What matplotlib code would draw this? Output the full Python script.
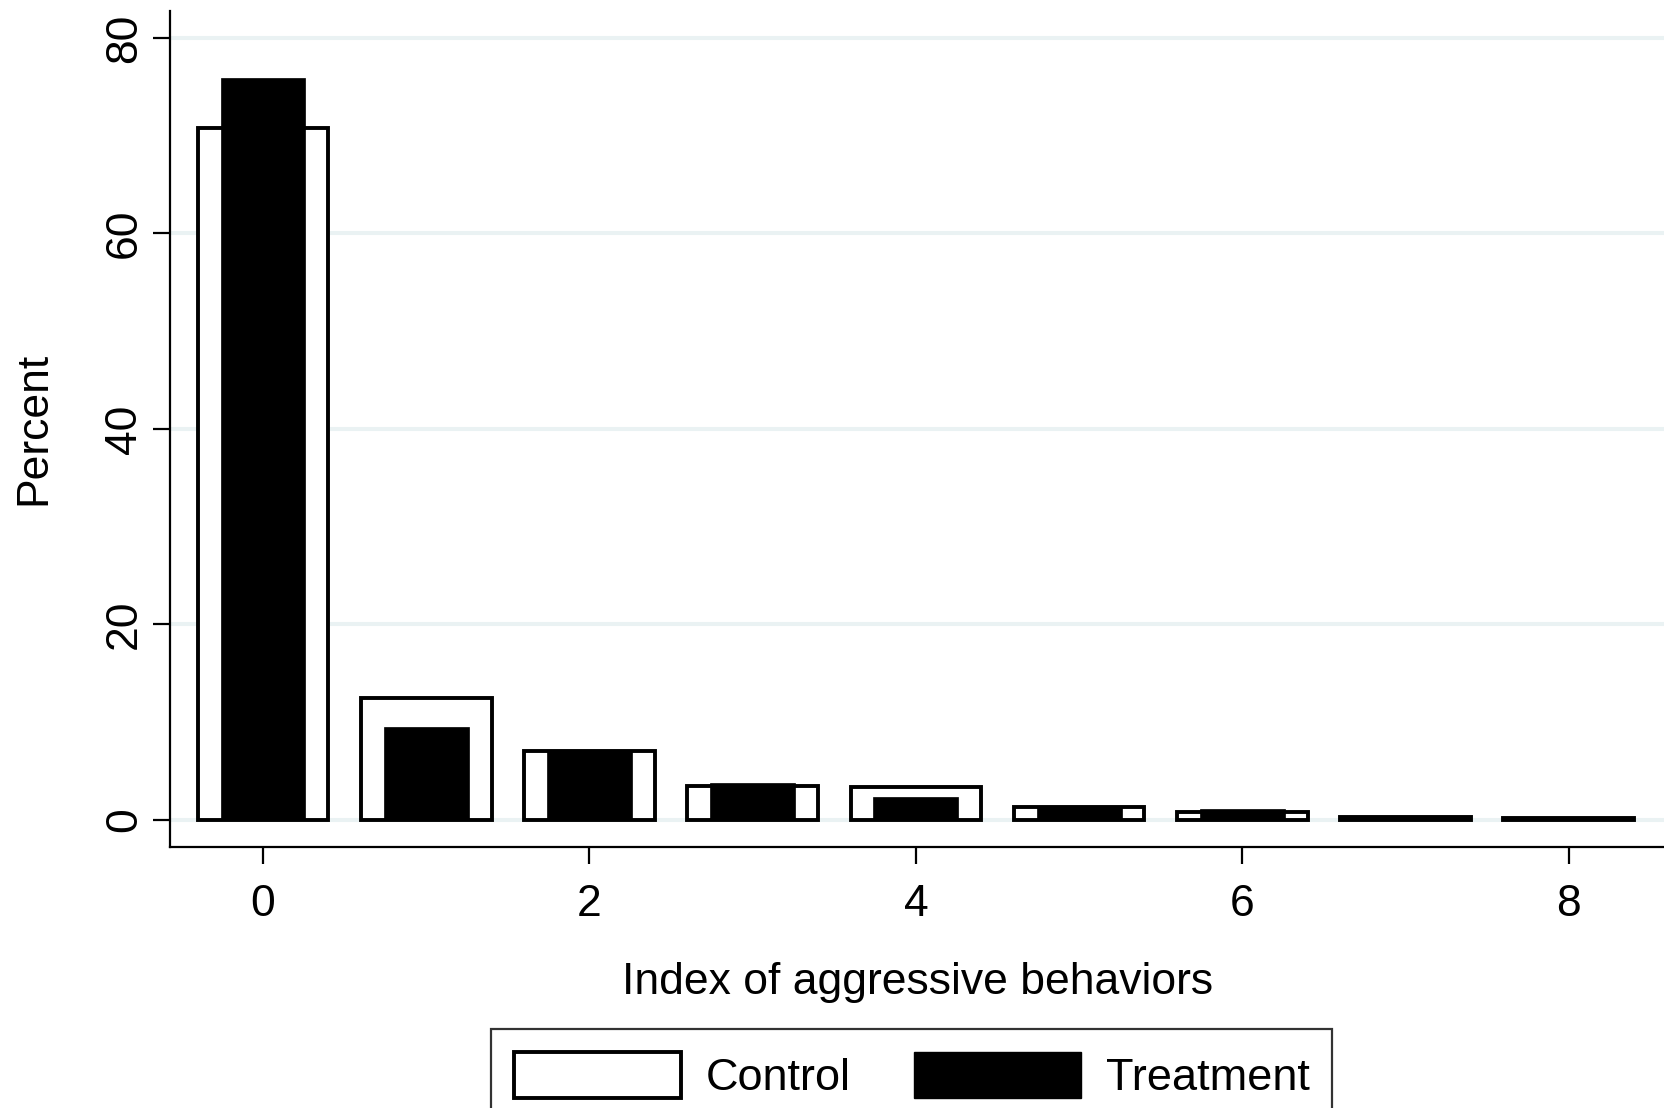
import matplotlib.pyplot as plt
import matplotlib.patches as mpatches
import numpy as np

plt.rcParams['font.family'] = ['Liberation Sans', 'DejaVu Sans']

# index values and percentages
index_vals = np.arange(9)
control = [70.8, 12.5, 7.1, 3.5, 3.4, 1.3, 0.8, 0.3, 0.2]
treatment = [75.9, 9.5, 7.2, 3.8, 2.4, 1.4, 1.1, 0.4, 0.2]

fig = plt.figure(figsize=(16.65, 11.08), dpi=100)
ax = fig.add_axes([0.1021, 0.2356, 0.8979, 0.7548])

# grid
for g in [0, 20, 40, 60, 80]:
    ax.axhline(g, color='#EAF2F3', lw=2.9, zorder=0)

ax.bar(index_vals, control, width=0.8, color='white', edgecolor='black',
       linewidth=2.8, zorder=2)
ax.bar(index_vals, treatment, width=0.52, color='black', edgecolor='black',
       linewidth=0.5, zorder=3)

ax.set_xlim(-0.57, 8.59)
ax.set_ylim(-2.76, 82.8)
ax.set_xticks([0, 2, 4, 6, 8])
ax.set_yticks([0, 20, 40, 60, 80])

for s in ['top', 'right']:
    ax.spines[s].set_visible(False)
for s in ['left', 'bottom']:
    ax.spines[s].set_linewidth(1.6)

ax.tick_params(axis='both', length=12, width=1.6, labelsize=32, pad=6)
ax.tick_params(axis='x', pad=15)
for lab in ax.get_yticklabels():
    lab.set_rotation(90)
    lab.set_va('center')

ax.set_xlabel('Index of aggressive behaviors', fontsize=32, labelpad=26)
ax.set_ylabel('Percent', fontsize=32, labelpad=36)

h1 = mpatches.Patch(facecolor='white', edgecolor='black', linewidth=2.8)
h2 = mpatches.Patch(facecolor='black', edgecolor='black')
leg = fig.legend([h1, h2], ['Control', 'Treatment'], ncol=2, fontsize=32.5,
                 loc='upper center', bbox_to_anchor=(0.5475, 0.0713),
                 frameon=True, fancybox=False, edgecolor='black',
                 handlelength=3.7, handleheight=1.2, handletextpad=0.55,
                 columnspacing=1.4, borderpad=0.5, borderaxespad=0)
leg.get_frame().set_linewidth(1.6)

fig.savefig('out.png', dpi=100)
